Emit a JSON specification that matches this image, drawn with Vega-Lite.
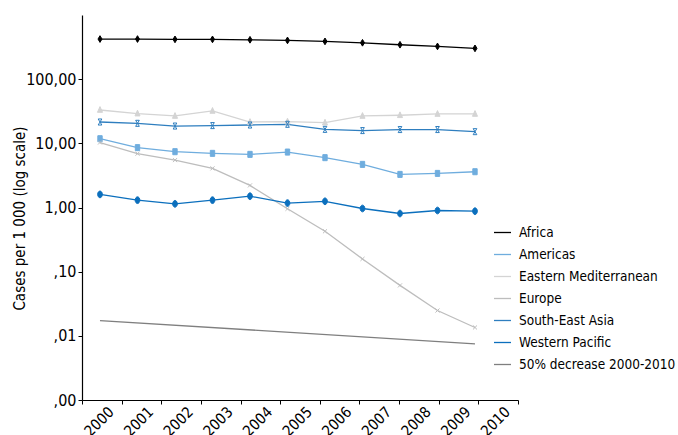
{
  "$schema": "https://vega.github.io/schema/vega-lite/v6.json",
  "width": 436,
  "height": 385,
  "autosize": {"type": "none"},
  "padding": {"left": 82, "top": 15, "right": 160, "bottom": 35},
  "background": "white",
  "config": {
    "font": "DejaVu Sans Condensed, Liberation Sans, sans-serif",
    "view": {"stroke": null},
    "axis": {"grid": false, "domainColor": "#000000", "tickColor": "#000000", "labelColor": "#000000", "titleColor": "#000000", "labelFont": "DejaVu Sans Condensed, Liberation Sans, sans-serif", "titleFont": "DejaVu Sans Condensed, Liberation Sans, sans-serif"},
    "legend": {"labelFont": "DejaVu Sans Condensed, Liberation Sans, sans-serif"}
  },
  "datasets": {
    "years": [
      {"yr": "2000"}, {"yr": "2001"}, {"yr": "2002"}, {"yr": "2003"}, {"yr": "2004"}, {"yr": "2005"},
      {"yr": "2006"}, {"yr": "2007"}, {"yr": "2008"}, {"yr": "2009"}, {"yr": "2010"}
    ],
    "series": [
      {"region": "Africa", "year": 2000, "value": 422},
      {"region": "Africa", "year": 2001, "value": 422},
      {"region": "Africa", "year": 2002, "value": 417},
      {"region": "Africa", "year": 2003, "value": 417},
      {"region": "Africa", "year": 2004, "value": 411},
      {"region": "Africa", "year": 2005, "value": 402},
      {"region": "Africa", "year": 2006, "value": 388},
      {"region": "Africa", "year": 2007, "value": 369},
      {"region": "Africa", "year": 2008, "value": 344},
      {"region": "Africa", "year": 2009, "value": 324},
      {"region": "Africa", "year": 2010, "value": 302},
      {"region": "Americas", "year": 2000, "value": 11.8},
      {"region": "Americas", "year": 2001, "value": 8.57},
      {"region": "Americas", "year": 2002, "value": 7.41},
      {"region": "Americas", "year": 2003, "value": 6.98},
      {"region": "Americas", "year": 2004, "value": 6.73},
      {"region": "Americas", "year": 2005, "value": 7.31},
      {"region": "Americas", "year": 2006, "value": 5.98},
      {"region": "Americas", "year": 2007, "value": 4.70},
      {"region": "Americas", "year": 2008, "value": 3.28},
      {"region": "Americas", "year": 2009, "value": 3.40},
      {"region": "Americas", "year": 2010, "value": 3.61},
      {"region": "Eastern Mediterranean", "year": 2000, "value": 33.1},
      {"region": "Eastern Mediterranean", "year": 2001, "value": 29.1},
      {"region": "Eastern Mediterranean", "year": 2002, "value": 26.7},
      {"region": "Eastern Mediterranean", "year": 2003, "value": 32.0},
      {"region": "Eastern Mediterranean", "year": 2004, "value": 21.5},
      {"region": "Eastern Mediterranean", "year": 2005, "value": 21.8},
      {"region": "Eastern Mediterranean", "year": 2006, "value": 21.0},
      {"region": "Eastern Mediterranean", "year": 2007, "value": 26.7},
      {"region": "Eastern Mediterranean", "year": 2008, "value": 27.4},
      {"region": "Eastern Mediterranean", "year": 2009, "value": 28.7},
      {"region": "Eastern Mediterranean", "year": 2010, "value": 28.7},
      {"region": "Europe", "year": 2000, "value": 10.3},
      {"region": "Europe", "year": 2001, "value": 6.90},
      {"region": "Europe", "year": 2002, "value": 5.48},
      {"region": "Europe", "year": 2003, "value": 4.07},
      {"region": "Europe", "year": 2004, "value": 2.21},
      {"region": "Europe", "year": 2005, "value": 0.954},
      {"region": "Europe", "year": 2006, "value": 0.426},
      {"region": "Europe", "year": 2007, "value": 0.158},
      {"region": "Europe", "year": 2008, "value": 0.0611},
      {"region": "Europe", "year": 2009, "value": 0.0248},
      {"region": "Europe", "year": 2010, "value": 0.0135},
      {"region": "South-East Asia", "year": 2000, "value": 21.5},
      {"region": "South-East Asia", "year": 2001, "value": 20.5},
      {"region": "South-East Asia", "year": 2002, "value": 18.6},
      {"region": "South-East Asia", "year": 2003, "value": 18.9},
      {"region": "South-East Asia", "year": 2004, "value": 19.3},
      {"region": "South-East Asia", "year": 2005, "value": 19.8},
      {"region": "South-East Asia", "year": 2006, "value": 16.5},
      {"region": "South-East Asia", "year": 2007, "value": 15.8},
      {"region": "South-East Asia", "year": 2008, "value": 16.4},
      {"region": "South-East Asia", "year": 2009, "value": 16.4},
      {"region": "South-East Asia", "year": 2010, "value": 15.2},
      {"region": "Western Pacific", "year": 2000, "value": 1.60},
      {"region": "Western Pacific", "year": 2001, "value": 1.30},
      {"region": "Western Pacific", "year": 2002, "value": 1.14},
      {"region": "Western Pacific", "year": 2003, "value": 1.30},
      {"region": "Western Pacific", "year": 2004, "value": 1.50},
      {"region": "Western Pacific", "year": 2005, "value": 1.17},
      {"region": "Western Pacific", "year": 2006, "value": 1.25},
      {"region": "Western Pacific", "year": 2007, "value": 0.965},
      {"region": "Western Pacific", "year": 2008, "value": 0.806},
      {"region": "Western Pacific", "year": 2009, "value": 0.898},
      {"region": "Western Pacific", "year": 2010, "value": 0.876},
      {"region": "50% decrease 2000-2010", "year": 2000, "value": 0.0173},
      {"region": "50% decrease 2000-2010", "year": 2010, "value": 0.0075}
    ]
  },
  "layer": [
    {
      "data": {"name": "years"},
      "mark": {"type": "tick", "opacity": 0},
      "encoding": {
        "x": {
          "field": "yr", "type": "ordinal",
          "scale": {"type": "band", "paddingInner": 0, "paddingOuter": 0},
          "axis": {
            "orient": "bottom", "title": null, "labelAngle": -45, "labelFontSize": 15,
            "tickBand": "extent", "tickSize": 4, "labelPadding": 0, "labelOffset": 4, "domainWidth": 1.2
          }
        }
      }
    },
    {
      "data": {"name": "series"},
      "encoding": {
        "x": {"field": "year", "type": "quantitative", "scale": {"domain": [1999.52, 2011.147], "zero": false, "nice": false}, "axis": null},
        "y": {
          "field": "value", "type": "quantitative",
          "scale": {"type": "log", "domain": [0.001, 1000], "nice": false},
          "axis": {
            "title": "Cases per 1 000 (log scale)", "titleFontSize": 15, "titleFontWeight": "normal",
            "values": [0.001, 0.01, 0.1, 1, 10, 100], "labelFontSize": 16, "tickSize": 4, "labelPadding": 2,
            "domainWidth": 1.2, "titleX": -55, "titleY": 203,
            "labelExpr": "datum.value >= 90 ? '100,00' : datum.value >= 9 ? '10,00' : datum.value >= 0.9 ? '1,00' : datum.value >= 0.09 ? ',10' : datum.value >= 0.009 ? ',01' : ',00'"
          }
        }
      },
      "layer": [
        {
          "mark": {"type": "line", "strokeWidth": 1.3},
          "encoding": {
            "color": {
              "field": "region", "type": "nominal",
              "scale": {
                "domain": ["Africa", "Americas", "Eastern Mediterranean", "Europe", "South-East Asia", "Western Pacific", "50% decrease 2000-2010"],
                "range": ["#000000", "#6fadde", "#d4d4d4", "#bdbdbd", "#2e7ebf", "#0b6fbd", "#7f7f7f"]
              },
              "legend": {
                "title": null, "orient": "none", "legendX": 411, "legendY": 208,
                "symbolType": "M-1,0L1,0", "symbolSize": 289, "symbolStrokeWidth": 1.3,
                "labelFontSize": 13.5, "labelColor": "#000000", "rowPadding": 6, "labelOffset": 7, "labelLimit": 300
              }
            }
          }
        },
        {
          "transform": [{"filter": "datum.region != '50% decrease 2000-2010'"}],
          "mark": {"type": "point", "filled": true, "size": 45, "strokeWidth": 1, "opacity": 1},
          "encoding": {
            "fill": {
              "field": "region", "type": "nominal",
              "scale": {
                "domain": ["Africa", "Americas", "Eastern Mediterranean", "Europe", "South-East Asia", "Western Pacific"],
                "range": ["#000000", "#6fadde", "#d4d4d4", "#bdbdbd", "#2e7ebf", "#0b6fbd"]
              },
              "legend": null
            },
            "stroke": {
              "field": "region", "type": "nominal",
              "scale": {
                "domain": ["Africa", "Americas", "Eastern Mediterranean", "Europe", "South-East Asia", "Western Pacific"],
                "range": ["#000000", "#6fadde", "#d4d4d4", "#bdbdbd", "#2e7ebf", "#0b6fbd"]
              },
              "legend": null
            },
            "shape": {
              "field": "region", "type": "nominal",
              "scale": {
                "domain": ["Africa", "Americas", "Eastern Mediterranean", "Europe", "South-East Asia", "Western Pacific"],
                "range": [
                  "M0,-1L0.6,0L0,1L-0.6,0Z",
                  "M-0.65,-0.9L0.65,-0.9L0.65,0.9L-0.65,0.9Z",
                  "M0,-1L0.75,0.7L-0.75,0.7Z",
                  "M-0.6,-0.6L0.6,0.6M-0.6,0.6L0.6,-0.6",
                  "M-0.55,-0.9L0.55,-0.9M-0.55,0.9L0.55,0.9M-0.55,-0.9L0.55,0.9M0.55,-0.9L-0.55,0.9",
                  "M0,-1A0.7,1 0 1,1 0,1A0.7,1 0 1,1 0,-1Z"
                ]
              },
              "legend": null
            }
          }
        }
      ]
    }
  ],
  "resolve": {"scale": {"x": "independent"}, "axis": {"x": "independent"}}
}
